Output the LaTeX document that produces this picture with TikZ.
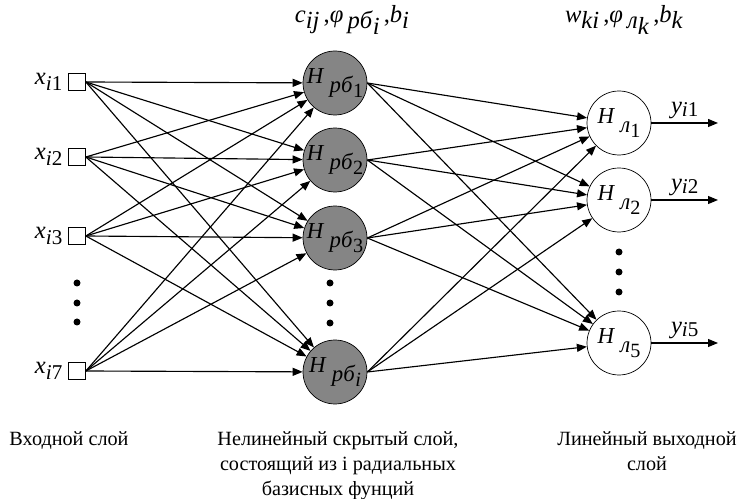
\documentclass[tikz,border=0pt]{standalone}
\usepackage{fontspec}
\setmainfont{Liberation Serif}
\usetikzlibrary{arrows.meta, calc, positioning}
\tikzset{
  entrada/.style = {draw, thin, fill=white, minimum size=0.34cm, inner sep=0pt},
  oculta/.style  = {circle, draw, thin, fill=black!48, minimum size=1.28cm, inner sep=0pt},
  salida/.style  = {circle, draw, thin, fill=white, minimum size=1.28cm, inner sep=0pt},
  flecha/.style  = {-{Triangle[length=0.2cm, width=0.16cm]}, black},
  punto/.style   = {circle, fill=black, minimum size=0.14cm, inner sep=0pt},
  texto/.style   = {font=\fontsize{11.5}{14.3}\selectfont, align=center, inner sep=0pt}
}
\newcommand{\bajo}[2]{\raisebox{-#1}{#2}}
\newcommand{\xent}[1]{\textit{x}{\fontsize{12}{12}\selectfont\bajo{0.55ex}{\textit{i}#1}}}
\newcommand{\ysal}[1]{\textit{y}{\fontsize{12}{12}\selectfont\bajo{0.35ex}{\textit{i}#1}}}
\newcommand{\Hrb}[1]{\textit{H}\hspace{3pt}\bajo{0.85ex}{\textit{рб}}{\fontsize{11.5}{11.5}\selectfont\bajo{1.5ex}{#1}}}
\newcommand{\Hl}[1]{\textit{H}\hspace{3pt}\bajo{0.85ex}{\textit{л}}{\fontsize{11.5}{11.5}\selectfont\bajo{1.5ex}{#1}}}

\begin{document}
\begin{tikzpicture}[x=0.02cm, y=-0.02cm, line width=0.65pt,
                    font=\fontsize{13}{15}\selectfont]
  \useasboundingbox (0,0) rectangle (740,499);

  % capa de entrada
  \foreach \n/\y/\k in {x1/82/1, x2/157/2, x3/236/3, x7/371/7}{
    \node[entrada] (\n) at (77,\y) {};
    \node[left=3pt of \n, font=\fontsize{14}{14}\selectfont, inner sep=0pt] (e\n) {\xent{\k}};
  }
  \foreach \y in {283,303,322}{
    \node[punto] (pe\y) at (77,\y) {};
  }

  % capa oculta
  \foreach \n/\y/\k in {h1/83/1, h2/160/2, h3/238/3, hi/372/{\textit{i}}}{
    \node[oculta] (\n) at (335,\y) {\Hrb{\k}};
  }
  \foreach \y in {283,303,323}{
    \node[punto] (po\y) at (330,\y) {};
  }

  % capa de salida
  \foreach \n/\y/\k in {o1/123/1, o2/200/2, o5/343/5}{
    \node[salida] (\n) at (619,\y) {\Hl{\k}};
    \coordinate (y\k) at (718,\y);
    \draw[flecha] (\n.east) -- (y\k) node[midway, above=-1pt, font=\fontsize{14}{14}\selectfont] (ey\k) {\ysal{\k}};
  }
  \foreach \y in {252,272,292}{
    \node[punto] (ps\y) at (619,\y) {};
  }

  % conexiones
  \foreach \a in {x1,x2,x3,x7}
    \foreach \b in {h1,h2,h3,hi}
      \draw[flecha] (\a.east) -- (\b);
  \foreach \a in {h1,h2,h3,hi}
    \foreach \b in {o1,o2,o5}
      \draw[flecha] (\a.east) -- (\b);

  % parametros
  \node[anchor=base, inner sep=0pt, font=\fontsize{14}{14}\selectfont] (par1) at (352,23)
    {\textit{c}\bajo{0.5ex}{\textit{ij}}\,,\textit{φ}\,\bajo{0.5ex}{\textit{рб}\bajo{0.5ex}{\textit{i}}}\,,\textit{b}\bajo{0.5ex}{\textit{i}}};
  \node[anchor=base, inner sep=0pt, font=\fontsize{14}{14}\selectfont] (par2) at (624,23)
    {\textit{w}\bajo{0.5ex}{\textit{ki}}\,,\textit{φ}\,\bajo{0.5ex}{\textit{л}\bajo{0.5ex}{\textit{k}}}\,,\textit{b}\bajo{0.5ex}{\textit{k}}};

  % rotulos de las capas
  \node[texto, anchor=north] (capa1) at (69,431) {Входной слой};
  \node[texto, anchor=north] (capa2) at (338,431)
    {Нелинейный скрытый слой,\\состоящий из i радиальных\\базисных фунций};
  \node[texto, anchor=north] (capa3) at (647,431) {Линейный выходной\\слой};
\end{tikzpicture}
\end{document}
